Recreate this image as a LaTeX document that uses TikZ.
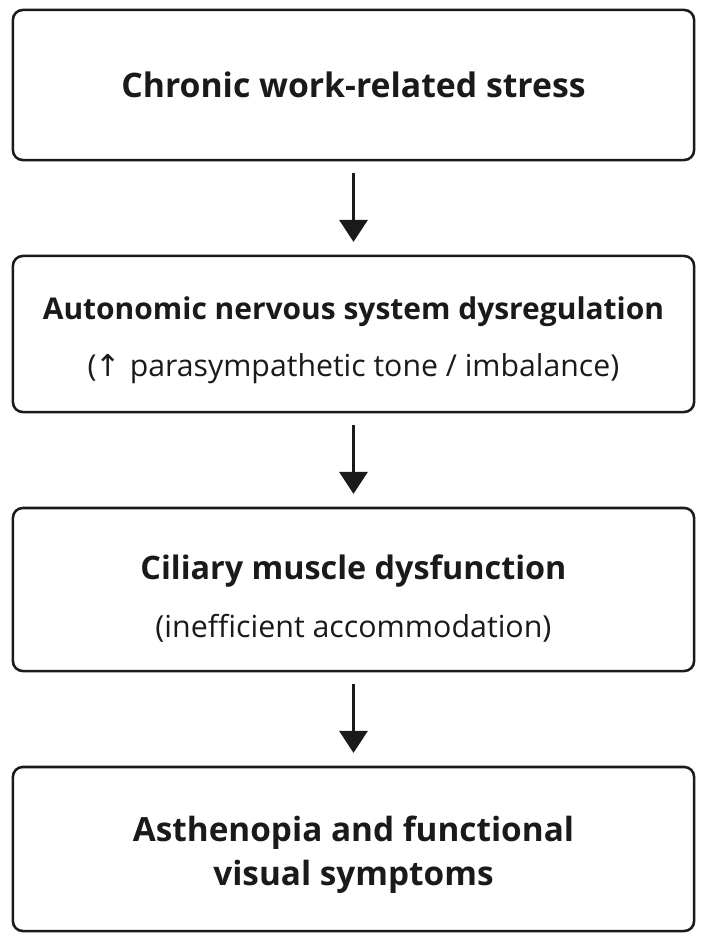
\documentclass[tikz,border=0pt]{standalone}
\usepackage{fontspec}
\setmainfont{Open Sans}
\newfontfamily\symfont{DejaVu Sans}
\usetikzlibrary{arrows.meta}
\definecolor{ink}{HTML}{1A1A1A}
\tikzset{
  stage/.style={draw=ink, line width=1.8pt, rounded corners=7pt, text=ink,
    align=center, minimum width=17.025cm, inner sep=0pt},
  flow/.style={draw=ink, line width=2.2pt,
    -{Triangle[width=0.7cm, length=0.55cm]}, shorten <=0.3cm, shorten >=0.32cm}
}
\begin{document}
\begin{tikzpicture}[x=0.025cm, y=-0.025cm]
  \useasboundingbox (0,0) rectangle (705,941);

  \node[stage, minimum height=3.75cm] (stress) at (353.5,85)
    {{\fontsize{24}{30}\selectfont\bfseries Chronic work-related stress}};
  \node[stage, minimum height=3.9cm] (ans) at (353.5,334)
    {\rule{0pt}{25pt}{\fontsize{21.3}{30}\selectfont\bfseries Autonomic nervous system dysregulation}\\[18pt]
     {\fontsize{21.5}{26}\selectfont ({\kern-1pt\symfont↑}\kern1pt\ parasympathetic tone / imbalance)}};
  \node[stage, minimum height=4.075cm] (ciliary) at (353.5,589.5)
    {\rule{0pt}{30pt}{\fontsize{23}{30}\selectfont\bfseries Ciliary muscle dysfunction}\\[18pt]
     {\fontsize{21.6}{26}\selectfont (inefficient accommodation)}};
  \node[stage, minimum height=4.1cm] (symptoms) at (353.5,849)
    {\rule{0pt}{26pt}{\fontsize{23.7}{38}\selectfont\bfseries Asthenopia and functional}\\[7pt]
     {\fontsize{23.7}{38}\selectfont\bfseries visual symptoms}};

  \draw[flow] (stress) -- (ans);
  \draw[flow] (ans) -- (ciliary);
  \draw[flow] (ciliary) -- (symptoms);
\end{tikzpicture}
\end{document}
